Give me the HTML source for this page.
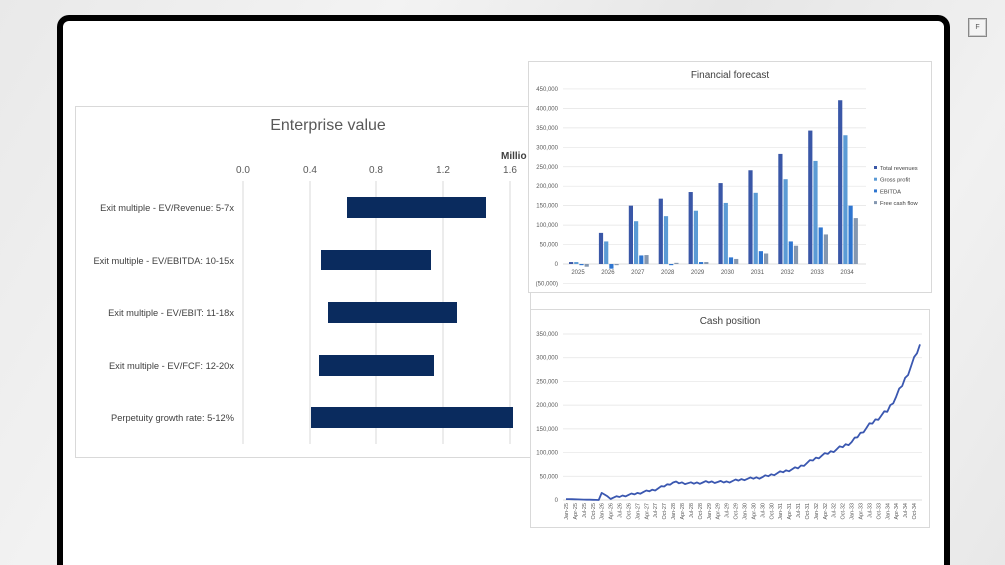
<!DOCTYPE html>
<html><head><meta charset="utf-8">
<style>
html,body{margin:0;padding:0;width:1005px;height:565px;overflow:hidden;}
#wrap{position:relative;width:1005px;height:565px;overflow:hidden;font-family:"Liberation Sans",sans-serif;
background:linear-gradient(120deg,#e9e9e9 0%,#f3f3f3 30%,#e6e6e6 55%,#f1f1f1 80%,#e8e8e8 100%);}
.frame{position:absolute;left:57px;top:15px;width:881px;height:544px;border:6px solid #000;border-bottom:0;border-radius:12px 12px 0 0;background:#fff;}
.fbtn{position:absolute;left:968px;top:18px;width:17px;height:17px;border:1px solid #888;box-shadow:inset 0 0 0 1px #ccc;background:#f4f4f4;font-size:7px;color:#555;text-align:center;line-height:17px;}
svg{position:absolute;left:0;top:0;}
</style></head>
<body>
<div id="wrap">
<div class="frame"></div>
<div class="fbtn">F</div>
<svg id="s" width="1005" height="565" font-family="Liberation Sans, sans-serif">
<rect x="75.5" y="106.5" width="455" height="351" fill="#fff" stroke="#d9d9d9"/>
<text x="328" y="130" font-size="16" fill="#595959" text-anchor="middle">Enterprise value</text>
<text x="501" y="159" font-size="10" fill="#404040" font-weight="bold">Millio</text>
<g font-size="10" fill="#595959" text-anchor="middle">
<text x="243" y="173">0.0</text><text x="310" y="173">0.4</text><text x="376" y="173">0.8</text><text x="443" y="173">1.2</text><text x="510" y="173">1.6</text>
</g>
<g stroke="#d9d9d9">
<line x1="243" y1="181" x2="243" y2="444"/><line x1="310" y1="181" x2="310" y2="444"/><line x1="376" y1="181" x2="376" y2="444"/><line x1="443" y1="181" x2="443" y2="444"/><line x1="510" y1="181" x2="510" y2="444"/>
</g>
<g fill="#0a2b5e">
<rect x="347" y="197" width="139" height="21"/>
<rect x="321" y="250" width="110" height="20"/>
<rect x="328" y="302" width="129" height="21"/>
<rect x="319" y="355" width="115" height="21"/>
<rect x="311" y="407" width="202" height="21"/>
</g>
<g font-size="9.3" fill="#404040" text-anchor="end">
<text x="234" y="211">Exit multiple - EV/Revenue: 5-7x</text>
<text x="234" y="264">Exit multiple - EV/EBITDA: 10-15x</text>
<text x="234" y="316">Exit multiple - EV/EBIT: 11-18x</text>
<text x="234" y="369">Exit multiple - EV/FCF: 12-20x</text>
<text x="234" y="421">Perpetuity growth rate: 5-12%</text>
</g>
<rect x="528.5" y="61.5" width="403" height="231" fill="#fff" stroke="#d9d9d9"/>
<text x="730" y="78" font-size="10" fill="#404040" text-anchor="middle">Financial forecast</text>
<g id="ff"></g>
<rect x="530.5" y="309.5" width="399" height="218" fill="#fff" stroke="#d9d9d9"/>
<text x="730" y="324" font-size="10" fill="#404040" text-anchor="middle">Cash position</text>
<g id="cp"></g>
</svg>
</div>
<script>
var NS="http://www.w3.org/2000/svg";
function el(p,t,a,txt){var e=document.createElementNS(NS,t);for(var k in a)e.setAttribute(k,a[k]);if(txt!=null)e.textContent=txt;p.appendChild(e);return e;}
var ff=document.getElementById('ff');
function fy(v){return 264-v*19.45/50;}
for(var v=-50;v<=450;v+=50){
 if(v!==0) el(ff,'line',{x1:563,x2:866,y1:fy(v),y2:fy(v),stroke:'#e3e3e3','stroke-width':0.7});
 var lab=v<0?'(50,000)':(v===0?'0':v+',000');
 el(ff,'text',{x:558,y:fy(v)+2,'font-size':6,fill:'#595959','text-anchor':'end'},lab);
}
el(ff,'line',{x1:563,x2:866,y1:264,y2:264,stroke:'#d0d0d0','stroke-width':0.8});
var data=[[5,5,-3,-7],[80,58,-12,-3],[150,110,22,23],[168,123,-3,3],[185,137,5,5],[208,157,17,13],[241,183,33,27],[283,218,58,47],[343,265,94,76],[421,331,150,118]];
var cols=['#3a57a7','#5b9bd5','#2e75d0','#8497b0'];
for(var i=0;i<10;i++){
 var cx=578+i*29.9;
 for(var j=0;j<4;j++){
  var v=data[i][j],x=cx-9+j*5.2,y0=fy(0),y1=fy(v);
  el(ff,'rect',{x:x,y:Math.min(y0,y1),width:4.2,height:Math.max(Math.abs(y1-y0),0.8),fill:cols[j]});
 }
 el(ff,'text',{x:cx,y:274,'font-size':6,fill:'#595959','text-anchor':'middle'},String(2025+i));
}
var ln=['Total revenues','Gross profit','EBITDA','Free cash flow'];
for(var j=0;j<4;j++){el(ff,'rect',{x:874,y:166+j*11.7,width:3,height:3,fill:cols[j]});el(ff,'text',{x:880,y:170+j*11.7,'font-size':5.8,fill:'#404040'},ln[j]);}
var cp=document.getElementById('cp');
function cy(v){return 500-v*166/350;}
for(var v=0;v<=350;v+=50){
 if(v>0) el(cp,'line',{x1:563,x2:922,y1:cy(v),y2:cy(v),stroke:'#e3e3e3','stroke-width':0.7});
 el(cp,'text',{x:558,y:cy(v)+2,'font-size':6,fill:'#595959','text-anchor':'end'},v===0?'0':v+',000');
}
el(cp,'line',{x1:563,x2:922,y1:500,y2:500,stroke:'#d0d0d0','stroke-width':0.8});
var kp=[[0,2],[11,0],[12,15],[15,4],[24,14],[30,22],[36,37],[42,35],[48,38],[54,38],[60,44],[66,48],[72,58],[78,68],[84,88],[90,104],[96,122],[102,158],[108,188],[111,218],[114,255],[117,296],[119,328]];
function val(m){for(var k=0;k<kp.length-1;k++){if(m<=kp[k+1][0]){var a=kp[k],b=kp[k+1];return a[1]+(b[1]-a[1])*(m-a[0])/(b[0]-a[0]);}}return 328;}
var pts=[];
for(var m=0;m<120;m++){var v=val(m);if(m>14&&m<119)v+=((m*7)%5-2)*0.9*(1+v/150);var x=566+m*354/119;pts.push(x.toFixed(1)+','+cy(v).toFixed(1));}
el(cp,'polyline',{points:pts.join(' '),fill:'none',stroke:'#3a57b0','stroke-width':1.8,'stroke-linejoin':'round'});
var mn=['Jan','Apr','Jul','Oct'];
for(var i=0;i<40;i++){var x=566+i*3*354/119+2;var lab=mn[i%4]+'-'+(25+Math.floor(i/4));
 el(cp,'text',{x:0,y:0,'font-size':5.5,fill:'#595959','text-anchor':'end',transform:'translate('+x.toFixed(1)+',503) rotate(-90)'},lab);}
</script>
</body></html>
